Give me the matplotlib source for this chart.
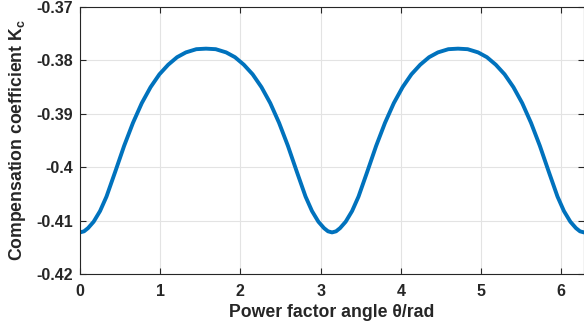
import numpy as np
import matplotlib
matplotlib.use("Agg")
import matplotlib.pyplot as plt

plt.rcParams['font.family'] = ['Liberation Sans', 'DejaVu Sans']
plt.rcParams['font.weight'] = 'bold'
plt.rcParams['axes.unicode_minus'] = False
plt.rcParams['mathtext.fontset'] = 'custom'
plt.rcParams['mathtext.rm'] = 'Liberation Sans:bold'
plt.rcParams['mathtext.bf'] = 'Liberation Sans:bold'

# readings (theta in rad, Kc)
theta = [0.000, 0.050, 0.100, 0.170, 0.250, 0.330, 0.440, 0.550, 0.660, 0.770,
         0.880, 0.990, 1.100, 1.210, 1.320, 1.450, 1.571,
         1.692, 1.822, 1.932, 2.042, 2.152, 2.262, 2.372, 2.482, 2.592, 2.702,
         2.812, 2.892, 2.972, 3.042, 3.092, 3.142,
         3.192, 3.242, 3.312, 3.392, 3.472, 3.582, 3.692, 3.802, 3.912, 4.022,
         4.132, 4.242, 4.352, 4.462, 4.592, 4.712,
         4.833, 4.963, 5.073, 5.183, 5.293, 5.403, 5.513, 5.623, 5.733, 5.843,
         5.953, 6.033, 6.113, 6.183, 6.233, 6.283]
kc = [-0.4122, -0.4120, -0.4114, -0.4102, -0.4082, -0.4055, -0.4008, -0.3960,
      -0.3917, -0.3880, -0.3850, -0.3826, -0.3808, -0.3794, -0.3785, -0.3779,
      -0.3778,
      -0.3779, -0.3785, -0.3794, -0.3808, -0.3826, -0.3850, -0.3880, -0.3917,
      -0.3960, -0.4008, -0.4055, -0.4082, -0.4102, -0.4114, -0.4120, -0.4122,
      -0.4120, -0.4114, -0.4102, -0.4082, -0.4055, -0.4008, -0.3960, -0.3917,
      -0.3880, -0.3850, -0.3826, -0.3808, -0.3794, -0.3785, -0.3779, -0.3778,
      -0.3779, -0.3785, -0.3794, -0.3808, -0.3826, -0.3850, -0.3880, -0.3917,
      -0.3960, -0.4008, -0.4055, -0.4082, -0.4102, -0.4114, -0.4120, -0.4122]

xticks = [0, 1, 2, 3, 4, 5, 6]
yticks = [-0.42, -0.41, -0.40, -0.39, -0.38, -0.37]
ytick_labels = ['-0.42', '-0.41', '-0.4', '-0.39', '-0.38', '-0.37']

fig = plt.figure(figsize=(5.84, 3.33), dpi=100)
ax = fig.add_axes([0.137, 0.177, 0.863, 0.802])

ax.plot(theta, kc, color='#0072BD', lw=2.8, solid_joinstyle='round')

ax.set_xlim(0, 2 * np.pi)
ax.set_ylim(-0.42, -0.37)
ax.set_xticks(xticks)
ax.set_yticks(yticks)
ax.set_yticklabels(ytick_labels)
ax.grid(True, color='#e3e3e3', lw=0.8)
ax.set_axisbelow(True)
ax.tick_params(direction='in', top=True, right=True, length=4, width=0.8,
               colors='#262626', labelsize=11.5)
ax.tick_params(axis='x', pad=7)
ax.tick_params(axis='y', pad=5)
for s in ax.spines.values():
    s.set_color('#262626')
    s.set_linewidth(0.8)

ax.set_xlabel('Power factor angle θ/rad', fontsize=12.7, fontweight='bold',
              color='#262626', labelpad=4)
ax.set_ylabel(r'Compensation coefficient K$_\mathbf{c}$', fontsize=12.7,
              fontweight='bold', color='#262626', labelpad=6)

plt.savefig('out.png', dpi=100)
